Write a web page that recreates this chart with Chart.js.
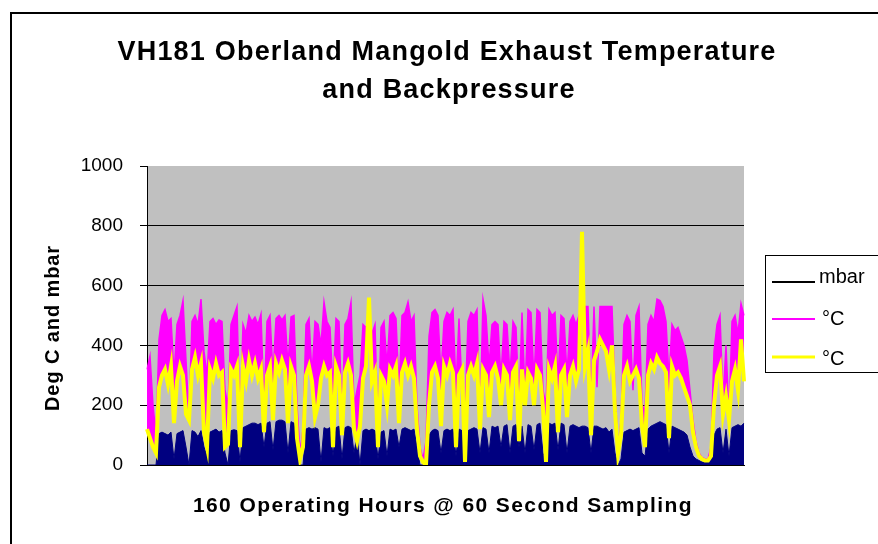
<!DOCTYPE html>
<html><head><meta charset="utf-8">
<script src="https://cdn.jsdelivr.net/npm/chart.js@4.4.1/dist/chart.umd.min.js"></script>
<style>html,body{margin:0;padding:0;background:#fff;}canvas{display:block;}</style>
</head><body>
<canvas id="c" width="878" height="544"></canvas>
<script>
const titleLines = ['VH181 Oberland Mangold Exhaust Temperature', 'and Backpressure'];
const xTitle = '160 Operating Hours @ 60 Second Sampling';
const yTitle = 'Deg C and mbar';
const seriesNames = ['mbar', '°C', '°C'];
const yTicks = [0, 200, 400, 600, 800, 1000];

const mbar = [
  0,0,0,0,105,110,105,100,110,20,
  105,110,115,60,0,115,110,95,115,60,
  30,110,115,120,110,115,40,0,115,118,
  115,10,125,130,135,140,140,135,140,60,
  140,145,50,145,150,150,145,40,145,140,
  60,0,0,120,125,120,125,120,10,125,
  120,125,30,125,130,20,125,130,125,40,
  100,0,115,120,115,120,115,20,110,115,
  30,120,115,120,60,120,125,120,115,120,
  60,0,0,0,100,115,120,115,40,115,
  120,115,120,30,120,115,0,115,120,125,
  120,40,125,120,40,130,125,130,60,130,
  135,40,130,135,60,130,40,135,130,50,
  135,140,40,10,140,135,140,50,140,135,
  40,130,135,130,125,130,130,125,40,130,
  130,125,120,125,110,120,40,0,20,110,
  115,120,115,120,125,40,30,120,130,135,
  140,145,140,135,40,130,125,120,115,110,
  100,60,30,20,15,10,10,10,20,100,
  120,125,40,120,30,125,130,135,130,140
];
const tempA = [
  320,365,200,100,420,500,520,480,490,300,
  470,500,550,350,160,480,500,470,555,380,
  300,480,490,470,485,480,250,200,470,500,
  530,140,470,440,500,480,495,470,505,200,
  480,500,300,490,500,485,500,330,495,500,
  200,40,120,470,490,300,480,470,400,545,
  480,460,250,490,480,160,470,490,545,200,
  250,300,470,460,480,440,470,100,460,480,
  330,500,510,490,250,500,510,545,480,500,
  200,60,20,80,430,510,520,500,300,480,
  510,500,520,260,490,250,180,480,510,500,
  520,140,555,500,330,470,480,470,290,480,
  470,300,480,460,200,510,240,520,510,280,
  520,510,250,200,520,500,510,280,500,490,
  300,480,500,470,500,520,530,530,200,530,
  260,530,530,530,530,530,250,60,150,470,
  500,480,250,500,530,200,180,470,500,480,
  555,550,530,480,290,470,450,460,430,400,
  350,250,150,80,40,25,20,20,60,380,
  470,500,220,400,160,480,500,440,540,500
];
const tempB = [
  120,90,60,40,260,300,320,270,330,140,
  280,330,300,170,150,320,360,300,340,110,
  60,320,290,340,300,310,60,70,320,300,
  330,60,330,280,350,300,340,290,320,110,
  300,330,150,340,310,350,320,140,330,300,
  90,20,60,300,330,280,160,200,290,330,
  300,310,60,330,300,100,310,340,300,120,
  80,130,290,330,560,280,310,60,300,280,
  200,320,300,330,140,310,340,300,330,290,
  120,30,10,0,200,310,330,290,130,330,
  300,340,310,60,300,320,10,300,330,300,
  340,120,320,300,160,310,330,290,200,320,
  300,150,310,330,80,320,200,310,290,200,
  320,300,190,10,320,290,330,110,300,320,
  160,300,330,280,320,780,330,380,100,350,
  380,420,400,380,320,400,180,40,100,300,
  330,280,300,320,290,130,60,300,340,320,
  360,340,330,310,90,330,300,310,290,260,
  230,200,110,60,30,20,15,15,30,200,
  300,330,170,230,150,280,320,250,420,280
];
const samples = mbar.map((_, i) => String(i + 1));

const FONT = '"Liberation Sans", Arial, sans-serif';
const legendColors = ['#000000', '#ff00ff', '#ffff00'];

const deco = {
  id: 'deco',
  beforeDraw(chart) {
    const ctx = chart.ctx, a = chart.chartArea;
    ctx.save();
    ctx.fillStyle = '#ffffff';
    ctx.fillRect(0, 0, chart.width, chart.height);
    ctx.fillStyle = '#c0c0c0';
    ctx.fillRect(a.left, a.top, a.right - a.left, a.bottom - a.top);
    ctx.strokeStyle = '#000';
    ctx.lineWidth = 2;
    ctx.strokeRect(11, 13, 1000, 1000);
    ctx.restore();
  },
  afterDraw(chart) {
    const ctx = chart.ctx;
    const ls = (v) => { if ('letterSpacing' in ctx) ctx.letterSpacing = v; };
    ctx.save();
    ctx.fillStyle = '#000';
    ctx.textAlign = 'center';
    ctx.textBaseline = 'middle';
    ls('1.2px');
    ctx.font = 'bold 27px ' + FONT;
    ctx.fillText(titleLines[0], 447, 53);
    ctx.fillText(titleLines[1], 449, 91);
    ls('1.4px');
    ctx.font = 'bold 21px ' + FONT;
    ctx.fillText(xTitle, 443, 506);
    ctx.save();
    ctx.translate(53, 328);
    ctx.rotate(-Math.PI / 2);
    ls('0.9px');
    ctx.font = 'bold 20px ' + FONT;
    ctx.fillText(yTitle, 0, 0);
    ctx.restore();
    ls('0px');
    // legend
    ctx.strokeStyle = '#000';
    ctx.lineWidth = 1;
    ctx.fillStyle = '#fff';
    ctx.fillRect(765.5, 255.5, 130, 117);
    ctx.strokeRect(765.5, 255.5, 130, 117);
    const ly = [282, 319, 357];
    const lb = [283, 325, 365];
    const lw = [2, 2, 3];
    ctx.textAlign = 'left';
    ctx.textBaseline = 'alphabetic';
    ctx.font = '20px ' + FONT;
    for (let k = 0; k < 3; k++) {
      ctx.strokeStyle = legendColors[k];
      ctx.lineWidth = lw[k];
      ctx.beginPath();
      ctx.moveTo(772, ly[k]);
      ctx.lineTo(815, ly[k]);
      ctx.stroke();
      ctx.fillStyle = '#000';
      ctx.fillText(chart.data.datasets[k].label, k === 0 ? 819 : 822, lb[k]);
    }
    ctx.restore();
  }
};

new Chart(document.getElementById('c'), {
  type: 'line',
  data: {
    labels: samples,
    datasets: [
      { label: seriesNames[0], data: mbar, borderColor: '#000080', backgroundColor: '#000080',
        borderWidth: 1, fill: 'origin', pointRadius: 0, tension: 0, order: 3 },
      { label: seriesNames[1], data: tempA, borderColor: '#ff00ff', borderWidth: 1.5,
        fill: { target: '+1', above: '#ff00ff', below: 'rgba(0,0,0,0)' }, pointRadius: 0, tension: 0, order: 2 },
      { label: seriesNames[2], data: tempB, borderColor: '#ffff00', borderWidth: 4,
        fill: false, pointRadius: 0, tension: 0, order: 1 }
    ]
  },
  options: {
    responsive: false,
    animation: false,
    devicePixelRatio: 1,
    layout: { padding: { left: 0, right: 134, top: 166, bottom: 0 } },
    plugins: { legend: { display: false }, title: { display: false }, tooltip: { enabled: false } },
    scales: {
      x: {
        type: 'category',
        offset: false,
        grid: { display: false },
        ticks: { display: false },
        border: { display: true, color: '#000', width: 1 },
        afterFit(s) { s.height = 79; }
      },
      y: {
        min: 0, max: 1000,
        afterBuildTicks(s) { s.ticks = yTicks.map(v => ({ value: v })); },
        ticks: { color: '#000', font: { family: FONT, size: 19 }, padding: 17,
                 callback: (v) => String(v) },
        grid: {
          color: (c) => (c.tick && (c.tick.value === 1000)) ? 'rgba(0,0,0,0)' : '#000',
          tickColor: '#000', tickLength: 7, lineWidth: 1
        },
        border: { display: true, color: '#000', width: 1 },
        afterFit(s) { s.width = 147; }
      }
    }
  },
  plugins: [deco]
});
</script>
</body></html>
